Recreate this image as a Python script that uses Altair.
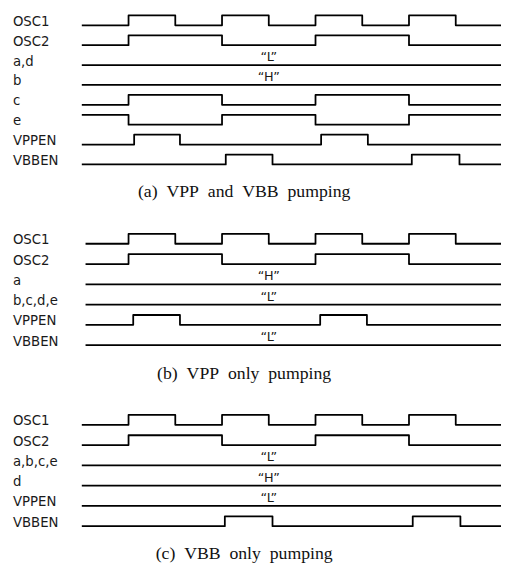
import altair as alt
import pandas as pd

# ---------------- data ----------------
captions = ["(a) VPP and VBB pumping", "(b) VPP only pumping", "(c) VBB only pumping"]

labels_a = ["OSC1", "OSC2", "a,d", "b", "c", "e", "VPPEN", "VBBEN"]
start_a = [0, 0, 0, 0, 0, 1, 0, 0]
edges_a = [
    [1, 2, 3, 4, 5, 6, 7, 8],
    [1, 3, 5, 7],
    [],
    [],
    [1, 3, 5, 7],
    [1, 3, 5, 7],
    [1.12, 2.1, 5.12, 6.12],
    [3.08, 4.08, 7.06, 8.08],
]
notes_a = ["", "", "\u201cL\u201d", "\u201cH\u201d", "", "", "", ""]

labels_b = ["OSC1", "OSC2", "a", "b,c,d,e", "VPPEN", "VBBEN"]
start_b = [0, 0, 0, 0, 0, 0]
edges_b = [
    [1, 2, 3, 4, 5, 6, 7, 8],
    [1, 3, 5, 7],
    [],
    [],
    [1.1, 2.1, 5.1, 6.1],
    [],
]
notes_b = ["", "", "\u201cH\u201d", "\u201cL\u201d", "", "\u201cL\u201d"]

labels_c = ["OSC1", "OSC2", "a,b,c,e", "d", "VPPEN", "VBBEN"]
start_c = [0, 0, 0, 0, 0, 0]
edges_c = [
    [1, 2, 3, 4, 5, 6, 7, 8],
    [1, 3, 5, 7],
    [],
    [],
    [],
    [3.06, 4.08, 7.08, 8.1],
]
notes_c = ["", "", "\u201cL\u201d", "\u201cH\u201d", "\u201cL\u201d", ""]

note_time = 4.0

# ---------------- layout ----------------
W, H = 501, 565
PX_PER_T = 47.5
X0 = 83            # page x of t = 0
T_LEFT = (8 - X0) / PX_PER_T
T_RIGHT = (509 - X0) / PX_PER_T
AMP = 10
panel_first_row = [21, 243, 427]
row_spacing = [20.2, 20.6, 20.6]
caption_y = [190, 375, 558]
line_start = [0.0, 0.08, 0.0]
label_t = (13 - X0) / PX_PER_T
caption_t = (248 - X0) / PX_PER_T

panels = [
    (labels_a, start_a, edges_a, notes_a),
    (labels_b, start_b, edges_b, notes_b),
    (labels_c, start_c, edges_c, notes_c),
]

line_rows, label_rows, note_rows, cap_rows = [], [], [], []
for p, (labels, starts, edges, notes) in enumerate(panels):
    for r, (lab, s0, ed, nt) in enumerate(zip(labels, starts, edges, notes)):
        base = panel_first_row[p] + r * row_spacing[p]
        sid = f"{p}-{r}"
        lvl = s0
        pts = [(line_start[p], lvl)]
        for t in ed:
            pts.append((t, lvl))
            lvl = 1 - lvl
            pts.append((t, lvl))
        pts.append((T_RIGHT, lvl))
        for i, (t, l) in enumerate(pts):
            line_rows.append({"sid": sid, "i": i, "t": t, "y": base - l * AMP})
        label_rows.append({"t": label_t, "y": base - 3.5, "text": lab})
        if nt:
            note_rows.append({"t": note_time, "y": base - 1, "text": nt})
    cap_rows.append({"t": caption_t, "y": caption_y[p],
                     "text": captions[p].replace(" ", "\u2002")})

xs = alt.Scale(domain=[T_LEFT, T_RIGHT], range=[0, W])
ys = alt.Scale(domain=[8, 573], range=[0, H])

lines = alt.Chart(pd.DataFrame(line_rows)).mark_line(
    color="black", strokeWidth=1.8, interpolate="linear", strokeJoin="round"
).encode(
    x=alt.X("t:Q", scale=xs, axis=None),
    y=alt.Y("y:Q", scale=ys, axis=None),
    detail="sid:N",
    order="i:Q",
)

labels_layer = alt.Chart(pd.DataFrame(label_rows)).mark_text(
    align="left", baseline="middle", font="DejaVu Sans", fontSize=13.5, color="#1a1a1a"
).encode(x=alt.X("t:Q", scale=xs), y=alt.Y("y:Q", scale=ys), text="text:N")

notes_layer = alt.Chart(pd.DataFrame(note_rows)).mark_text(
    align="center", baseline="bottom", font="DejaVu Sans", fontSize=13, color="#1a1a1a"
).encode(x=alt.X("t:Q", scale=xs), y=alt.Y("y:Q", scale=ys), text="text:N")

caps_layer = alt.Chart(pd.DataFrame(cap_rows)).mark_text(
    align="center", baseline="middle", font="Liberation Serif", fontSize=18, color="#111"
).encode(x=alt.X("t:Q", scale=xs), y=alt.Y("y:Q", scale=ys), text="text:N")

chart = alt.layer(lines, labels_layer, notes_layer, caps_layer).properties(
    width=W, height=H, autosize=alt.AutoSizeParams(type="none"), padding=0
).configure(background="white").configure_view(stroke=None, strokeWidth=0)

chart.save("out.html", embed_options={"renderer": "svg", "actions": False})
